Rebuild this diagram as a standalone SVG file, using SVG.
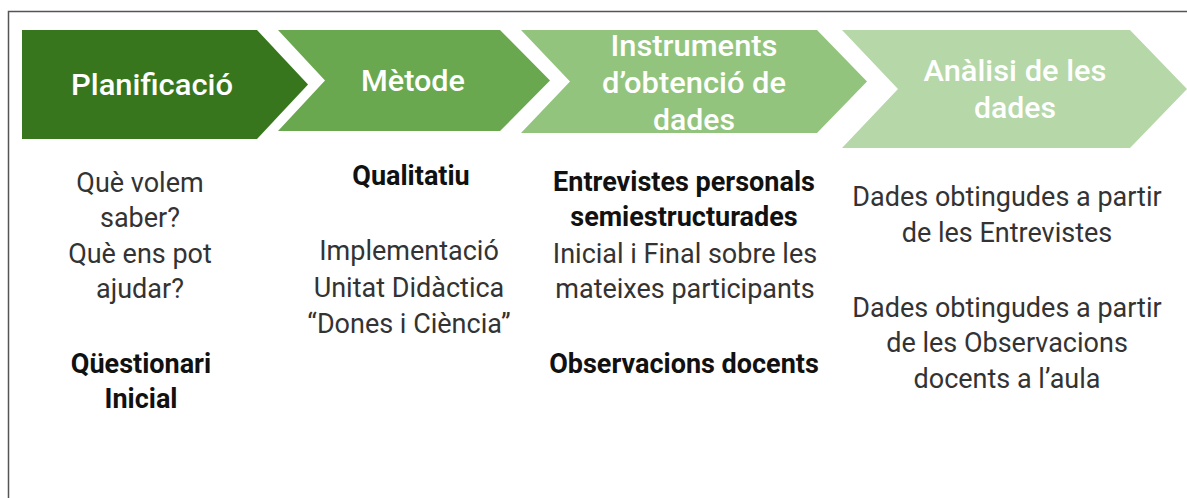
<svg xmlns="http://www.w3.org/2000/svg" width="1187" height="498" viewBox="0 0 1187 498">
<style>
.frame{fill:none;stroke:#555;stroke-width:1.5}
.head{font-family:Roboto,"Liberation Sans",sans-serif;font-weight:500;font-size:29px;fill:#fff;text-anchor:middle}
.body{font-family:Roboto,"Liberation Sans",sans-serif;font-weight:400;font-size:27px;fill:#333;text-anchor:middle}
.b{font-weight:700;fill:#111}
</style>
<rect width="1187" height="498" fill="#fff"/>
<path class="frame" d="M8.5,498 V11.5 H1187"/>
<g id="connectors"></g>
<g id="step1">
<path d="M22,30 H257 L308,84.5 L257,139 H22 Z" fill="#38761d"/>
<text class="head" x="152" y="95" textLength="162" lengthAdjust="spacingAndGlyphs">Planificació</text>
</g>
<g id="step2">
<path d="M278,30 H500 L550,80.5 L500,131 H278 L325,80.5 Z" fill="#6aa84f"/>
<text class="head" x="413" y="91" textLength="104" lengthAdjust="spacingAndGlyphs">Mètode</text>
</g>
<g id="step3">
<path d="M521,30 H817 L867,81.5 L817,133 H521 L570,81.5 Z" fill="#93c47d"/>
<text class="head" x="694" y="56" textLength="167" lengthAdjust="spacingAndGlyphs">Instruments</text>
<text class="head" x="694" y="93" textLength="184" lengthAdjust="spacingAndGlyphs">d’obtenció de</text>
<text class="head" x="694" y="130" textLength="82" lengthAdjust="spacingAndGlyphs">dades</text>
</g>
<g id="step4">
<path d="M842,30 H1130 L1187,89 L1130,148 H842 L898,89 Z" fill="#b6d7a8"/>
<text class="head" x="1015" y="81" textLength="183" lengthAdjust="spacingAndGlyphs">Anàlisi de les</text>
<text class="head" x="1015" y="118" textLength="82" lengthAdjust="spacingAndGlyphs">dades</text>
</g>
<g id="col1">
<text class="body" x="140" y="192">Què volem</text>
<text class="body" x="140" y="227">saber?</text>
<text class="body" x="140" y="263">Què ens pot</text>
<text class="body" x="140" y="298">ajudar?</text>
<text class="body b" x="141" y="373">Qüestionari</text>
<text class="body b" x="141" y="408">Inicial</text>
</g>
<g id="col2">
<text class="body b" x="411" y="185">Qualitatiu</text>
<text class="body" x="409" y="260">Implementació</text>
<text class="body" x="409" y="297">Unitat Didàctica</text>
<text class="body" x="409" y="333">“Dones i Ciència”</text>
</g>
<g id="col3">
<text class="body b" x="684" y="191">Entrevistes personals</text>
<text class="body b" x="684" y="226">semiestructurades</text>
<text class="body" x="685" y="263">Inicial i Final sobre les</text>
<text class="body" x="685" y="298">mateixes participants</text>
<text class="body b" x="684" y="373">Observacions docents</text>
</g>
<g id="col4">
<text class="body" x="1007" y="206">Dades obtingudes a partir</text>
<text class="body" x="1007" y="242">de les Entrevistes</text>
<text class="body" x="1007" y="317">Dades obtingudes a partir</text>
<text class="body" x="1007" y="352">de les Observacions</text>
<text class="body" x="1007" y="388">docents a l’aula</text>
</g>
</svg>
